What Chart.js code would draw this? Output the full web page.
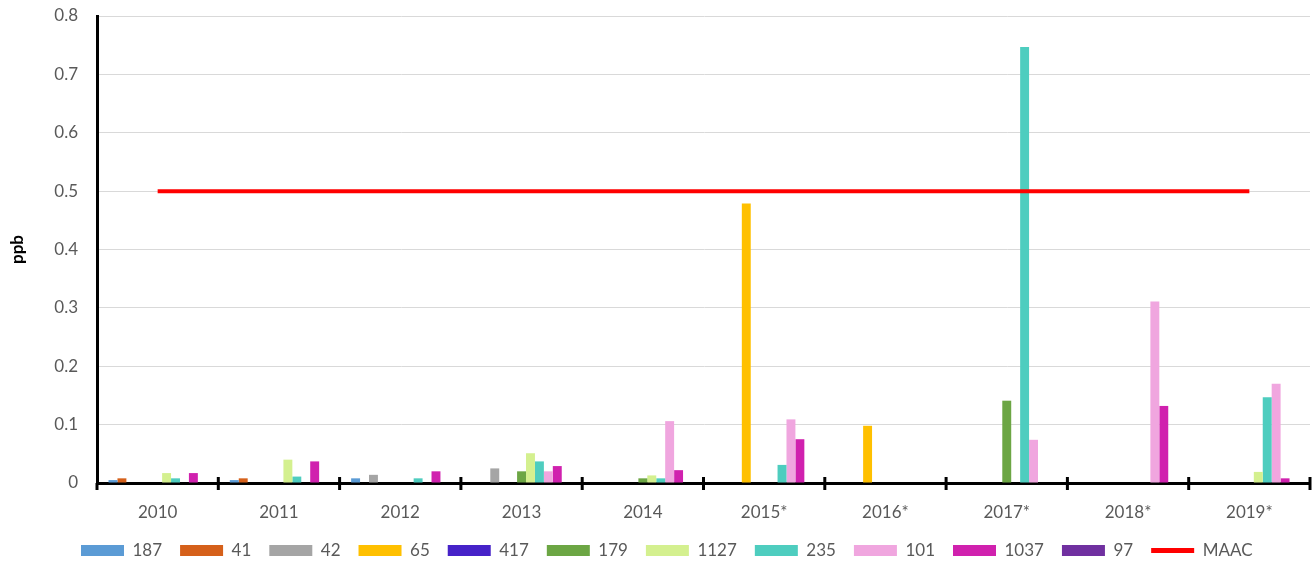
<!DOCTYPE html>
<html><head><meta charset="utf-8">
<script src="https://cdn.jsdelivr.net/npm/chart.js@4.4.1/dist/chart.umd.min.js"></script>
<style>html,body{margin:0;padding:0;background:#fff}#wrap{width:1315px;height:569px}</style>
</head><body><div id="wrap"><canvas id="c"></canvas></div>
<script>
const categories = ['2010','2011','2012','2013','2014','2015*','2016*','2017*','2018*','2019*'];
const seriesNames = ['187','41','42','65','417','179','1127','235','101','1037','97'];
const s187  = [0.005,0.005,0.008,0,0,0,0,0,0,0];
const s41   = [0.008,0.008,0,0,0,0,0,0,0,0];
const s42   = [0,0,0.014,0.025,0,0,0,0,0,0];
const s65   = [0,0,0,0,0,0.479,0.098,0,0,0];
const s417  = [0,0,0,0,0,0,0,0,0,0];
const s179  = [0,0,0,0.020,0.008,0,0,0.141,0,0];
const s1127 = [0.017,0.040,0,0.051,0.013,0,0,0,0,0.019];
const s235  = [0.008,0.011,0.008,0.037,0.008,0.031,0,0.747,0,0.147];
const s101  = [0,0,0,0.020,0.106,0.109,0,0.074,0.311,0.170];
const s1037 = [0.017,0.037,0.020,0.029,0.022,0.075,0,0,0.132,0.008];
const s97   = [0,0,0,0,0,0,0,0,0,0];
const maac  = [0.5,0.5,0.5,0.5,0.5,0.5,0.5,0.5,0.5,0.5];
const yTicks = [0,0.1,0.2,0.3,0.4,0.5,0.6,0.7,0.8];

const colors = ['#5B9BD5','#D5601A','#A5A5A5','#FFC000','#4622C8','#6CA644','#D4F08F','#4ECDBF','#F0A6DF','#D021AE','#7030A0'];
const values = [s187,s41,s42,s65,s417,s179,s1127,s235,s101,s1037,s97];

const datasets = values.map((v,i)=>({
  type:'bar', label: seriesNames[i], data: v, backgroundColor: colors[i],
  borderWidth:0, categoryPercentage:0.81, barPercentage:1.0, order:1
}));
datasets.push({type:'line', label:'MAAC', data: maac, borderColor:'#FF0000', backgroundColor:'#FF0000',
  borderWidth:4, pointRadius:0, pointHoverRadius:0, order:0, pointStyle:'line'});

const FONT = 'Lato, "Open Sans", sans-serif';
const GREY = '#595959';
const LEG_PAD = 18;
const LEG_FONT = 17;
const LEG_START = 81;

const crossTicks = {
  id:'crossTicks',
  afterDatasetsDraw(chart){
    const xs = chart.scales.x, ctx = chart.ctx;
    const y = chart.chartArea.bottom;
    ctx.save(); ctx.strokeStyle='#000'; ctx.lineWidth=3;
    const half = (xs.getPixelForValue(1)-xs.getPixelForValue(0))/2;
    for(let i=0;i<=categories.length;i++){
      const x = xs.getPixelForValue(i) - half;
      ctx.beginPath(); ctx.moveTo(x, i===0 ? y : y-6); ctx.lineTo(x,y+7); ctx.stroke();
    }
    ctx.restore();
  }
};
const legendShift = {
  id:'legendShift',
  afterLayout(chart){
    const lg = chart.legend; const w = lg.right - lg.left;
    lg.left = LEG_START - LEG_PAD; lg.right = lg.left + w;
  }
};

new Chart(document.getElementById('c'),{
  data:{labels:categories, datasets},
  plugins:[crossTicks, legendShift],
  options:{
    responsive:true, maintainAspectRatio:false, animation:false,
    layout:{padding:{left:0,right:5,top:16,bottom:0}},
    plugins:{
      tooltip:{enabled:false},
      legend:{position:'bottom', align:'start',
        labels:{font:{family:FONT,size:LEG_FONT}, color:GREY, usePointStyle:true, pointStyleWidth:43, boxHeight:11, padding:LEG_PAD,
          sort:(a,b)=>a.datasetIndex-b.datasetIndex,
          generateLabels(chart){
            const items = Chart.defaults.plugins.legend.labels.generateLabels(chart);
            return items.map(it=>{
              const ds = chart.data.datasets[it.datasetIndex];
              if(ds.type==='line'){ it.pointStyle='line'; it.lineWidth=5; it.strokeStyle='#FF0000'; }
              else { it.pointStyle='rect'; it.lineWidth=0; }
              return it;
            });
          }
        }
      }
    },
    scales:{
      x:{
        grid:{display:false},
        border:{color:'#000', width:3},
        ticks:{font:{family:FONT,size:17}, color:GREY, padding:11},
        afterFit(s){ s.height = (569 - (LEG_FONT + LEG_PAD + 10)) - 483; }
      },
      y:{
        min:0, max:0.8,
        afterBuildTicks(s){ s.ticks = yTicks.map(v=>({value:v})); },
        afterFit(s){ s.width = 97; s.paddingTop = 0; s.paddingBottom = 0; },
        grid:{color:'#D9D9D9', lineWidth:1, drawTicks:false},
        border:{color:'#000', width:3},
        ticks:{font:{family:FONT,size:17}, color:GREY, padding:19},
        title:{display:true, text:'ppb', font:{family:FONT,size:17,weight:'bold'}, color:'#000', padding:{top:7,bottom:0}}
      }
    }
  }
});
</script></body></html>
